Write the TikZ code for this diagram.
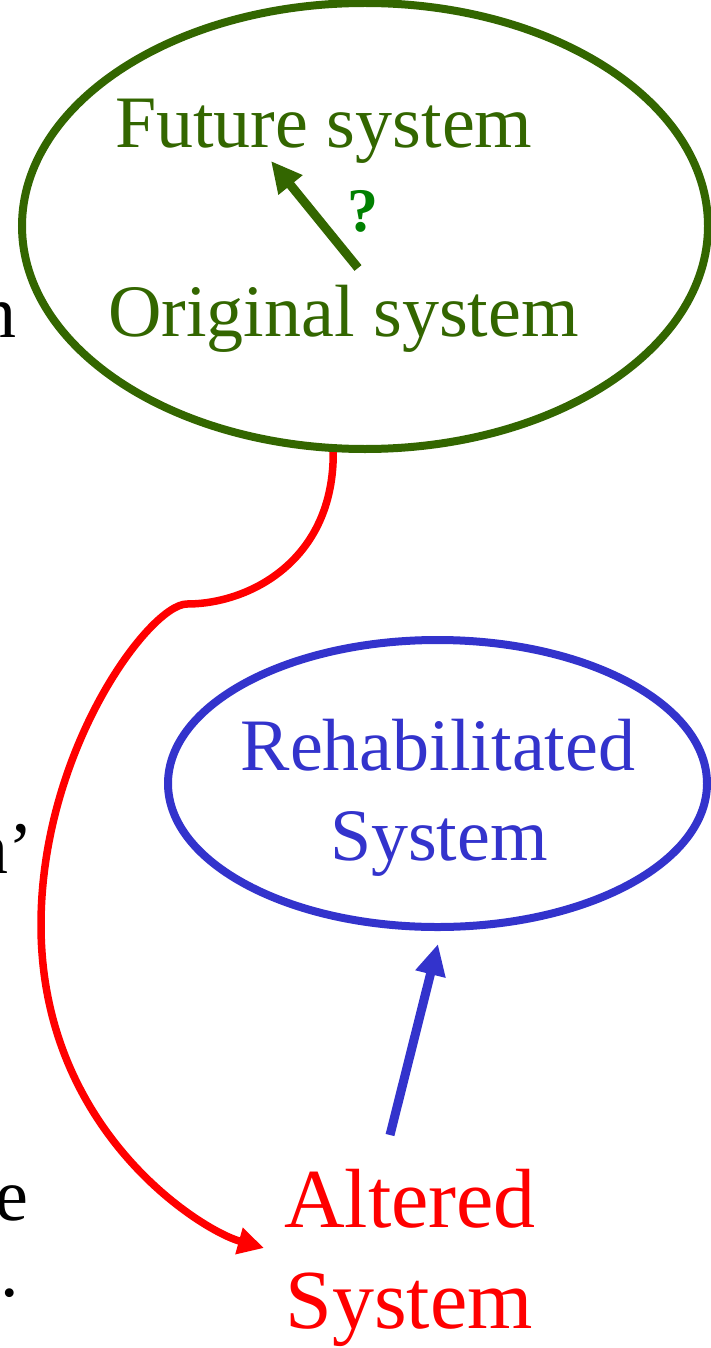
\documentclass[tikz,border=0pt]{standalone}
\usepackage{fontspec}
\setmainfont{Liberation Serif}
\usetikzlibrary{shapes.geometric,arrows.meta}
\definecolor{oliveg}{RGB}{51,102,0}
\definecolor{qgreen}{RGB}{0,128,0}
\definecolor{sysblue}{RGB}{51,51,204}
\definecolor{sysred}{RGB}{255,0,0}
\tikzset{
  bubble/.style={ellipse, draw, line width=8pt, inner sep=0pt},
  label74/.style={inner sep=0pt, font=\fontsize{74}{80}\selectfont},
  label84/.style={inner sep=0pt, font=\fontsize{84}{90}\selectfont},
  fragment/.style={inner sep=0pt, font=\fontsize{74}{80}\selectfont, text=black},
  bigarrow/.style={line width=9pt, -{Triangle[length=31pt,width=29pt]}},
}
\begin{document}
\begin{tikzpicture}[x=1pt,y=-1pt]
\useasboundingbox (0,0) rectangle (711,1348);
\clip (0,0) rectangle (711,1348);
% left fragments of cut-off text
\node[fragment, anchor=base east] (fa) at (17,337) {n};
\node[fragment, anchor=base east] (fb) at (33,873) {n’};
\node[fragment, anchor=base east] (fc) at (29,1220) {e};
\node[fragment, anchor=base east] (fd) at (19,1296) {.};
% green ellipse
\node[bubble, draw=oliveg, minimum width=686pt, minimum height=446pt] (green) at (365,226) {};
\node[label74, text=oliveg, anchor=base west] (future) at (115,148) {Future system};
\node[label74, text=oliveg, anchor=base west] (orig) at (108,336) {Original system};
\node[inner sep=0pt, font=\fontsize{62}{66}\selectfont\bfseries, text=qgreen, anchor=base] (q) at (363,232) {?};
\coordinate (ga) at (358,268);
\coordinate (gb) at (271,161);
\draw[bigarrow, draw=oliveg, fill=oliveg] (ga) -- (gb);
% blue ellipse
\node[bubble, draw=sysblue, minimum width=539pt, minimum height=287pt] (blue) at (437.5,783.5) {};
\node[label74, text=sysblue, anchor=base] (reh) at (438,770) {Rehabilitated};
\node[label74, text=sysblue, anchor=base] (rsys) at (439,860) {System};
% altered system
\node[label84, text=sysred, anchor=base] (alt) at (410,1227) {Altered};
\node[label84, text=sysred, anchor=base] (asys) at (409,1328) {System};
% blue arrow
\coordinate (ba) at (390,1135);
\coordinate (bb) at (438,944);
\draw[bigarrow, draw=sysblue, fill=sysblue] (ba) -- (bb);
% red curve
\coordinate (rend) at (264,1248);
\draw[sysred, line width=7.5pt, -{Triangle[length=26pt,width=26pt]}]
  (green.262) .. controls (334,560) and (250,604) .. (187,604)
  .. controls (150,604) and (41,750) .. (41,925)
  .. controls (41,1130) and (200,1230) .. (rend);
\end{tikzpicture}
\end{document}
